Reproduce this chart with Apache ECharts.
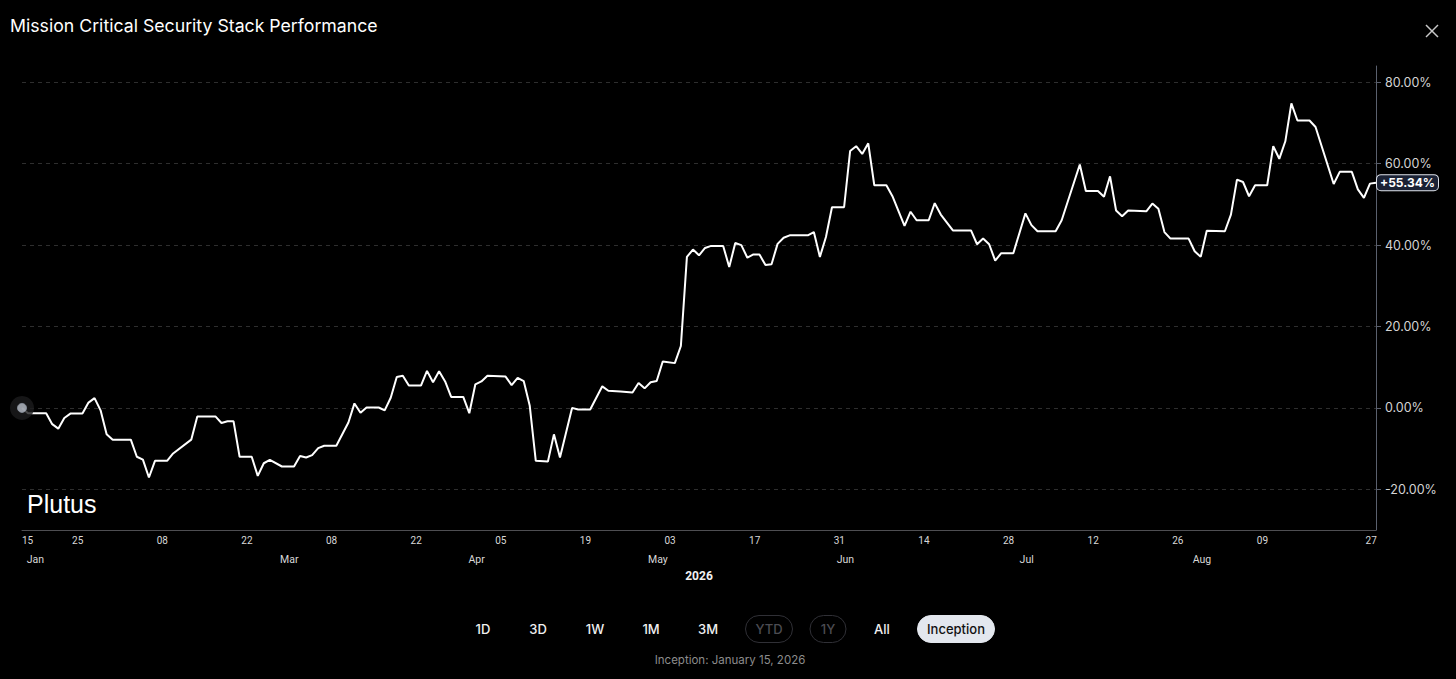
<!DOCTYPE html>
<html>
<head>
<meta charset="utf-8">
<title>Mission Critical Security Stack Performance</title>
<script src="https://cdn.jsdelivr.net/npm/echarts@6/dist/echarts.min.js"></script>
<style>
html, body { margin: 0; padding: 0; background: #000; }
#chart { width: 1456px; height: 679px; }
</style>
</head>
<body>
<div id="chart"></div>
<script>
var titleText = 'Mission Critical Security Stack Performance';
var brandText = 'Plutus';
var inceptionText = 'Inception: January 15, 2026';
var yearLabel = '2026';

// daily closes (cumulative % since inception)
var dates = [
    '2026-01-15','2026-01-16','2026-01-19','2026-01-20','2026-01-21','2026-01-22','2026-01-23','2026-01-25','2026-01-26','2026-01-27',
    '2026-01-28','2026-01-29','2026-01-30','2026-02-02','2026-02-03','2026-02-04','2026-02-05','2026-02-06','2026-02-08','2026-02-09',
    '2026-02-12','2026-02-13','2026-02-16','2026-02-17','2026-02-18','2026-02-19','2026-02-20','2026-02-22','2026-02-23','2026-02-24',
    '2026-02-25','2026-02-27','2026-03-01','2026-03-02','2026-03-03','2026-03-04','2026-03-05','2026-03-06','2026-03-08','2026-03-10',
    '2026-03-11','2026-03-12','2026-03-13','2026-03-15','2026-03-16','2026-03-17','2026-03-18','2026-03-19','2026-03-20','2026-03-22',
    '2026-03-23','2026-03-24','2026-03-25','2026-03-26','2026-03-27','2026-03-29','2026-03-30','2026-03-31','2026-04-01','2026-04-02',
    '2026-04-04','2026-04-05','2026-04-06','2026-04-07','2026-04-08','2026-04-09','2026-04-10','2026-04-12','2026-04-13','2026-04-14',
    '2026-04-16','2026-04-17','2026-04-19','2026-04-21','2026-04-22','2026-04-24','2026-04-26','2026-04-27','2026-04-28','2026-04-29',
    '2026-04-30','2026-05-01','2026-05-03','2026-05-04','2026-05-05','2026-05-06','2026-05-07','2026-05-08','2026-05-09','2026-05-11',
    '2026-05-12','2026-05-13','2026-05-14','2026-05-15','2026-05-16','2026-05-17','2026-05-18','2026-05-19','2026-05-20','2026-05-21',
    '2026-05-22','2026-05-25','2026-05-26','2026-05-27','2026-05-28','2026-05-29','2026-05-31','2026-06-01','2026-06-02','2026-06-03',
    '2026-06-04','2026-06-05','2026-06-07','2026-06-08','2026-06-10','2026-06-11','2026-06-12','2026-06-14','2026-06-15','2026-06-16',
    '2026-06-18','2026-06-21','2026-06-22','2026-06-23','2026-06-24','2026-06-25','2026-06-26','2026-06-28','2026-06-30','2026-07-01',
    '2026-07-02','2026-07-05','2026-07-06','2026-07-09','2026-07-10','2026-07-12','2026-07-13','2026-07-14','2026-07-15','2026-07-16',
    '2026-07-17','2026-07-20','2026-07-21','2026-07-22','2026-07-23','2026-07-24','2026-07-27','2026-07-28','2026-07-29','2026-07-30',
    '2026-08-02','2026-08-03','2026-08-04','2026-08-05','2026-08-06','2026-08-07','2026-08-09','2026-08-10','2026-08-11','2026-08-12',
    '2026-08-13','2026-08-14','2026-08-16','2026-08-17','2026-08-20','2026-08-21','2026-08-23','2026-08-24','2026-08-25','2026-08-26',
    '2026-08-27'
];
var values = [
    0, -1.3, -1.3, -4.0, -5.1, -2.5, -1.4, -1.4, 1.3, 2.4,
    -0.6, -6.5, -7.8, -7.8, -12.0, -12.7, -17.1, -13.0, -13.0, -11.2,
    -7.8, -2.1, -2.1, -3.7, -3.3, -3.3, -12.0, -12.0, -16.7, -13.6,
    -12.8, -14.4, -14.4, -11.8, -12.2, -11.6, -9.9, -9.3, -9.3, -3.6,
    1.1, -1.2, 0.1, 0.1, -0.6, 2.5, 7.6, 7.9, 5.5, 5.5,
    9.1, 6.3, 9.0, 6.5, 2.7, 2.7, -1.3, 5.8, 6.5, 7.9,
    7.8, 7.7, 5.6, 7.4, 6.6, 0.5, -13.0, -13.2, -6.5, -12.2,
    0.0, -0.4, -0.4, 5.3, 4.2, 4.0, 3.8, 6.1, 4.8, 6.3,
    6.6, 11.4, 11.0, 15.2, 37.1, 38.9, 37.5, 39.3, 39.8, 39.8,
    34.6, 40.5, 40.0, 36.9, 37.7, 37.7, 35.1, 35.3, 40.3, 41.8,
    42.4, 42.4, 43.2, 37.1, 42.0, 49.3, 49.3, 63.1, 64.3, 62.4,
    65.0, 54.7, 54.7, 52.0, 44.7, 48.2, 46.1, 46.1, 50.3, 47.5,
    43.6, 43.6, 40.2, 41.6, 40.2, 36.2, 38.0, 38.0, 47.8, 44.9,
    43.4, 43.4, 46.1, 59.8, 53.3, 53.3, 51.9, 56.9, 48.5, 47.1,
    48.5, 48.3, 50.2, 48.9, 43.2, 41.6, 41.6, 38.5, 37.1, 43.5,
    43.4, 47.5, 56.1, 55.5, 52.0, 54.7, 54.7, 64.3, 61.2, 65.5,
    74.8, 70.6, 70.6, 69.0, 55.0, 58.0, 58.0, 53.7, 51.6, 55.1,
    55.34
];

var dayTickDates = ['2026-01-15','2026-01-25','2026-02-08','2026-02-22','2026-03-08','2026-03-22','2026-04-05','2026-04-19',
    '2026-05-03','2026-05-17','2026-05-31','2026-06-14','2026-06-28','2026-07-12','2026-07-26','2026-08-09','2026-08-27'];
var monthTickDates = ['2026-01-18','2026-03-01','2026-04-01','2026-05-01','2026-06-01','2026-07-01','2026-07-30'];
var monthLabels = ['Jan','Mar','Apr','May','Jun','Jul','Aug'];
var yTicks = [-20, 0, 20, 40, 60, 80];

var rangeButtons = ['1D','3D','1W','1M','3M','YTD','1Y','All','Inception'];
var disabledButtons = ['YTD','1Y'];
var activeButton = 'Inception';

// points are stamped at the market close, ticks at midnight
var closeHour = 19;
function ts(d, h) {
    return new Date(d + 'T00:00:00').getTime() + (h || 0) * 3600 * 1000;
}

var seriesData = [];
for (var i = 0; i < dates.length; i++) {
    seriesData.push([ts(dates[i], closeHour), values[i]]);
}
var xMin = seriesData[0][0];
var xMax = seriesData[seriesData.length - 1][0];

var dayTicks = dayTickDates.map(function (d) { return Math.max(ts(d), xMin); });
var monthTicks = monthTickDates.map(function (d) { return ts(d); });

function pad2(n) { return (n < 10 ? '0' : '') + n; }

// button row
var btnX = [483, 538, 595, 651, 708, 769, 828, 882, 956];
var btnY = 629;
var graphics = [];
rangeButtons.forEach(function (b, i) {
    var disabled = disabledButtons.indexOf(b) >= 0;
    var active = b === activeButton;
    if (disabled || active) {
        var w = active ? 77 : (b.length > 2 ? 47 : 36);
        graphics.push({
            type: 'rect',
            shape: { x: btnX[i] - w / 2, y: btnY - 13.5, width: w, height: 27, r: 13.5 },
            style: {
                fill: active ? '#e3e7ee' : 'rgba(0,0,0,0)',
                stroke: active ? '#e3e7ee' : '#303036',
                lineWidth: 1
            },
            silent: true
        });
    }
    graphics.push({
        type: 'text',
        x: btnX[i], y: btnY,
        style: {
            text: b,
            font: '500 13px Inter',
            fill: active ? '#111' : (disabled ? '#4c4c52' : '#f0f0f0'),
            align: 'center', verticalAlign: 'middle',
            textAlign: 'center', textVerticalAlign: 'middle'
        },
        silent: true
    });
});
graphics.push({
    type: 'text', x: 730, y: 660,
    style: {
        text: inceptionText, font: '11.5px Inter', fill: '#8c8c8c',
        align: 'center', verticalAlign: 'middle', textAlign: 'center', textVerticalAlign: 'middle'
    }
});
graphics.push({
    type: 'text', x: 27, y: 504, z: 100,
    style: {
        text: brandText, font: '25px "Liberation Sans"', fill: '#fff',
        align: 'left', verticalAlign: 'middle', textAlign: 'left', textVerticalAlign: 'middle'
    }
});
// close icon
graphics.push({ type: 'line', shape: { x1: 1426, y1: 25, x2: 1438, y2: 37 }, style: { stroke: '#c8c8c8', lineWidth: 1.5 } });
graphics.push({ type: 'line', shape: { x1: 1438, y1: 25, x2: 1426, y2: 37 }, style: { stroke: '#c8c8c8', lineWidth: 1.5 } });

var chart = echarts.init(document.getElementById('chart'), null, { renderer: 'svg' });
var option = {
    backgroundColor: '#000',
    animation: false,
    title: {
        text: titleText,
        left: 5, top: 11,
        textStyle: { color: '#fff', fontSize: 17.7, fontWeight: 'normal', fontFamily: 'Inter' }
    },
    grid: { left: 22, right: 80, top: 66, bottom: 149 },
    xAxis: [{
        type: 'value',
        min: xMin, max: xMax,
        name: yearLabel,
        nameLocation: 'middle',
        nameGap: 40,
        nameTextStyle: { color: '#f0f0f0', fontSize: 12, fontWeight: 'bold', fontFamily: 'Roboto' },
        axisLine: { onZero: false, lineStyle: { color: '#4e4e52', width: 1 } },
        axisTick: { show: false },
        splitLine: { show: false },
        axisLabel: {
            customValues: dayTicks,
            color: '#d8d8d8', fontSize: 10, fontFamily: 'Roboto', margin: 5,
            alignMinLabel: 'left',
            formatter: function (v) { return pad2(new Date(v).getDate()); }
        }
    }, {
        type: 'value',
        min: xMin, max: xMax,
        position: 'bottom',
        offset: 19,
        axisLine: { show: false, onZero: false },
        axisTick: { show: false },
        splitLine: { show: false },
        axisLabel: {
            customValues: monthTicks,
            color: '#d8d8d8', fontSize: 10.5, fontFamily: 'Roboto', margin: 5,
            formatter: function (v) {
                var k = monthTicks.indexOf(v);
                return k >= 0 ? monthLabels[k] : '';
            }
        }
    }],
    yAxis: {
        type: 'value',
        position: 'right',
        min: -30, max: 84,
        axisLine: { show: true, onZero: false, lineStyle: { color: '#5a606e', width: 1 } },
        axisTick: { show: true, customValues: yTicks, length: 5, lineStyle: { color: '#5a606e' } },
        axisLabel: {
            customValues: yTicks,
            color: '#d4d4d4', fontSize: 12.5, fontFamily: 'Inter', margin: 9,
            formatter: function (v) { return v.toFixed(2) + '%'; }
        },
        splitLine: { show: true, lineStyle: { color: '#2e2e2e', type: [4, 4], width: 1 } }
    },
    series: [{
        type: 'line',
        data: seriesData,
        showSymbol: false,
        lineStyle: { color: '#fff', width: 2 },
        itemStyle: { color: '#fff' },
        endLabel: {
            show: true,
            distance: 1,
            formatter: function (p) { return '+' + p.value[1].toFixed(2) + '%'; },
            color: '#fff', fontWeight: 'bold', fontSize: 12, fontFamily: 'Inter',
            backgroundColor: '#1b2234', borderColor: '#dfe3ea', borderWidth: 1, borderRadius: 4,
            padding: [2, 3, 1, 3]
        },
        z: 3
    }, {
        type: 'scatter',
        data: [seriesData[0]],
        symbolSize: 24,
        itemStyle: { color: '#1b1b1d' },
        silent: true,
        z: 4
    }, {
        type: 'scatter',
        data: [seriesData[0]],
        symbolSize: 9,
        itemStyle: { color: '#bcc2cc', borderColor: '#8f96a3', borderWidth: 1 },
        silent: true,
        z: 5
    }],
    graphic: graphics
};
chart.setOption(option);
</script>
</body>
</html>
